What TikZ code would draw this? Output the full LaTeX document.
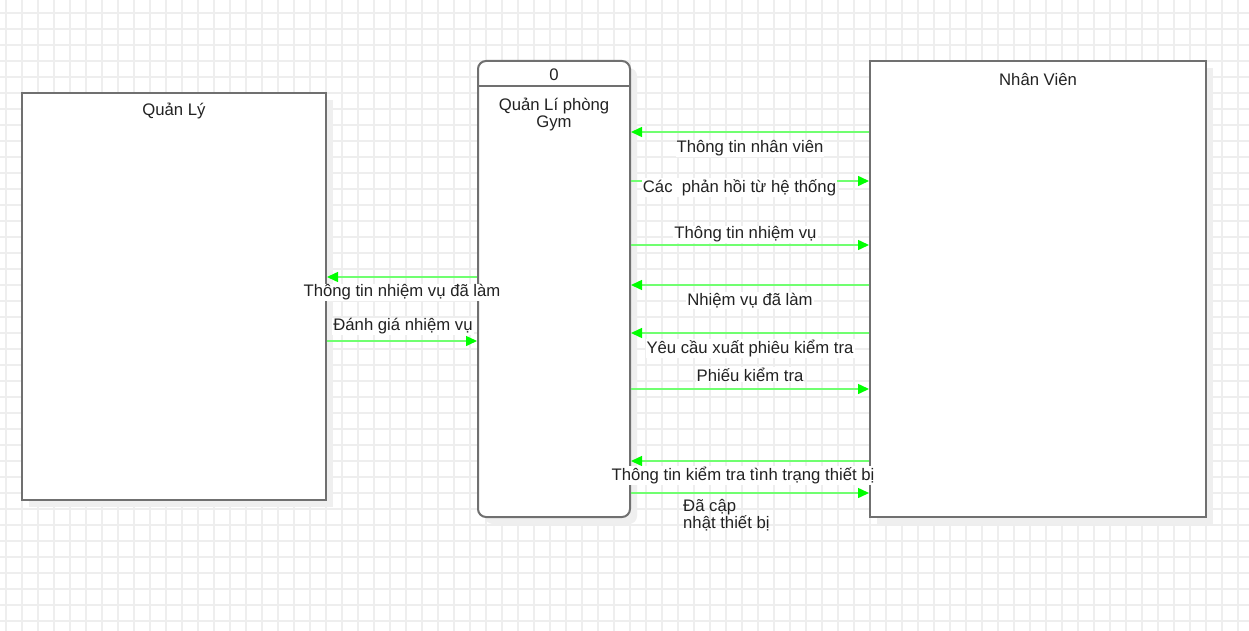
\documentclass[tikz,border=0pt]{standalone}
\usepackage{fontspec}
\setmainfont{Liberation Sans}
\usetikzlibrary{arrows.meta}
\definecolor{gridc}{HTML}{EEEEEE}
\definecolor{shadowc}{HTML}{EFEFEF}
\definecolor{boxc}{HTML}{707070}
\definecolor{linec}{HTML}{70FF70}
\definecolor{headc}{HTML}{00FF00}
\definecolor{txtc}{HTML}{222222}
\begin{document}
\begin{tikzpicture}[x=1pt,y=-1pt,
  gridline/.style={draw=gridc,line width=1.3pt},
  entity/.style={draw=boxc,line width=2pt,fill=white,rectangle,inner sep=0pt},
  shadowbox/.style={fill=shadowc},
  flow/.style={draw=linec,line width=1.5pt,-{Triangle[length=11pt,width=10pt,color=headc]}},
  lbl/.style={fill=white,inner sep=1pt,text=txtc,yshift=-1.5pt,font=\fontsize{16.7}{17}\selectfont},
  ttl/.style={text=txtc,font=\fontsize{16.7}{17}\selectfont,yshift=-1.5pt,align=center,inner sep=0pt}
]
\useasboundingbox (0,0) rectangle (1249,631);
\fill[white] (0,0) rectangle (1249,631);
% grid
\foreach \gx in {6,22,...,1254} \draw[gridline] (\gx,0) -- (\gx,631);
\foreach \gy in {13,29,...,631} \draw[gridline] (0,\gy) -- (1249,\gy);
% shadows
\fill[shadowbox] (29,100) rectangle (333,507);
\fill[shadowbox,rounded corners=8pt] (485,68) rectangle (637,524);
\fill[shadowbox] (877,68) rectangle (1213,524);
% entities
\node[entity,minimum width=304pt,minimum height=407pt] (ql) at (174,296.5) {};
\node[entity,minimum width=336pt,minimum height=456pt] (nv) at (1038,289) {};
\node[entity,rounded corners=8pt,minimum width=152pt,minimum height=456pt] (proc) at (554,289) {};
\draw[boxc,line width=2pt] (proc.west |- 0,86) -- (proc.east |- 0,86);
% titles
\node[ttl] (qlt) at (174,110) {Quản Lý};
\node[ttl] (nvt) at (1038,78) {Nhân Viên};
\node[ttl] (pnum) at (554,73) {0};
\node[ttl] (pname) at (554,113.5) {Quản Lí phòng\\Gym};
% left flows
\draw[flow] (proc.west |- 0,277) -- (ql.east |- 0,277);
\node[lbl] (l9) at (402,291) {Thông tin nhiệm vụ đã làm};
\draw[flow] (ql.east |- 0,341) -- (proc.west |- 0,341);
\node[lbl] (l10) at (403,325) {Đánh giá nhiệm vụ};
% right flows
\draw[flow] (nv.west |- 0,132) -- (proc.east |- 0,132);
\node[lbl] (l1) at (750,147) {Thông tin nhân viên};
\draw[flow] (proc.east |- 0,181) -- (nv.west |- 0,181);
\node[lbl] (l2) at (739.5,186) {Các\ \ phản hồi từ hệ thống};
\draw[flow] (proc.east |- 0,245) -- (nv.west |- 0,245);
\node[lbl] (l3) at (745.5,233) {Thông tin nhiệm vụ};
\draw[flow] (nv.west |- 0,285) -- (proc.east |- 0,285);
\node[lbl] (l4) at (750,299) {Nhiệm vụ đã làm};
\draw[flow] (nv.west |- 0,333) -- (proc.east |- 0,333);
\node[lbl] (l5) at (750,347) {Yêu cầu xuất phiêu kiểm tra};
\draw[flow] (proc.east |- 0,389) -- (nv.west |- 0,389);
\node[lbl] (l6) at (750,373) {Phiếu kiểm tra};
\draw[flow] (nv.west |- 0,461) -- (proc.east |- 0,461);
\node[lbl] (l7) at (743,474) {Thông tin kiểm tra tình trạng thiết bị};
\draw[flow] (proc.east |- 0,493) -- (nv.west |- 0,493);
\node[lbl,align=left,anchor=north west,fill=none] (l8) at (682,497) {Đã cập\\nhật thiết bị};
\end{tikzpicture}
\end{document}
